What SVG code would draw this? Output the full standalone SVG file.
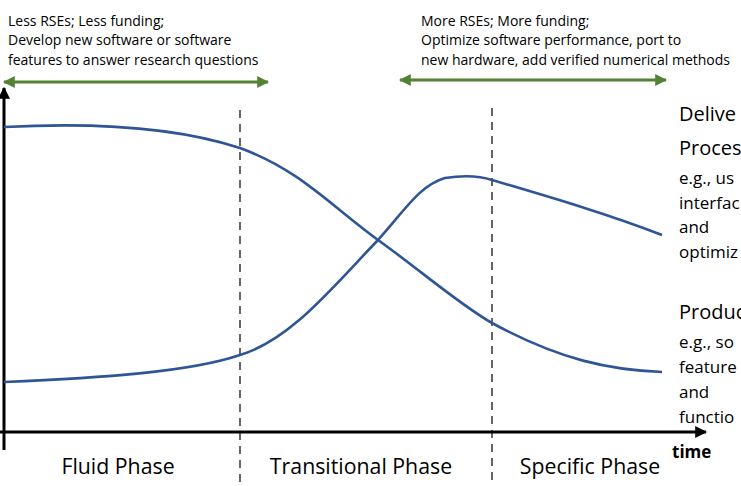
<svg xmlns="http://www.w3.org/2000/svg" width="741" height="486" viewBox="0 0 741 486">
<defs>
<style>
.t{font-family:"Open Sans","Noto Sans",sans-serif;fill:#000}
.top{font-size:14px}
.big{font-size:20px}
.mid{font-size:17px}
.ph{font-size:21.3px}
.curve{fill:none;stroke:#2F5597;stroke-width:2.6}
.dash{stroke:#404040;stroke-width:1.6;stroke-dasharray:8,6;fill:none}
.green{stroke:#548235;stroke-width:3;fill:none}
.axis{stroke:#000;stroke-width:3;fill:none}
</style>
<marker id="ga" viewBox="0 0 10 10" refX="9" refY="5" markerWidth="4" markerHeight="4" orient="auto-start-reverse"><path d="M0,0 L10,5 L0,10 z" fill="#548235"/></marker>
<marker id="ka" viewBox="0 0 10 10" refX="9" refY="5" markerWidth="4" markerHeight="4" orient="auto"><path d="M0,0 L10,5 L0,10 z" fill="#000"/></marker>
</defs>
<rect width="741" height="486" fill="#fff"/>
<g id="connectors">
<line class="dash" x1="240" y1="110" x2="240" y2="482"/>
<line class="dash" x1="492" y1="108" x2="492" y2="482"/>
<line class="green" x1="4" y1="82" x2="268" y2="82" marker-start="url(#ga)" marker-end="url(#ga)"/>
<line class="green" x1="400" y1="80" x2="666" y2="80" marker-start="url(#ga)" marker-end="url(#ga)"/>
<line class="axis" x1="4" y1="450" x2="4" y2="88" marker-end="url(#ka)"/>
<line class="axis" x1="0" y1="432" x2="706" y2="432" marker-end="url(#ka)"/>
<path id="curveA" class="curve" d="M4,127 C80,123 170,125 240,148 C300,170 330,205 378,240 C420,270 460,305 492,323 C560,360 610,370 662,372"/>
<path id="curveB" class="curve" d="M4,382 C100,378 190,372 240,355 C290,340 330,290 378,240 C405,210 420,185 445,178 C465,175 480,176 492,180 C560,200 610,215 662,235"/>
</g>
<g id="note-left">
<text class="t top" x="8" y="26">Less RSEs; Less funding;</text>
<text class="t top" x="8" y="45">Develop new software or software</text>
<text class="t top" x="8" y="65">features to answer research questions</text>
</g>
<g id="note-right">
<text class="t top" x="421" y="26">More RSEs; More funding;</text>
<text class="t top" x="421" y="45">Optimize software performance, port to</text>
<text class="t top" x="421" y="65">new hardware, add verified numerical methods</text>
</g>
<g id="label-delivery">
<text class="t big" x="679" y="121">Delive</text>
<text class="t big" x="679" y="155">Proces</text>
<text class="t mid" x="679" y="184">e.g., us</text>
<text class="t mid" x="679" y="209">interfac</text>
<text class="t mid" x="679" y="233">and</text>
<text class="t mid" x="679" y="258">optimiz</text>
</g>
<g id="label-product">
<text class="t big" x="679" y="319">Produc</text>
<text class="t mid" x="679" y="348">e.g., so</text>
<text class="t mid" x="679" y="373">feature</text>
<text class="t mid" x="679" y="398">and</text>
<text class="t mid" x="679" y="423">functio</text>
</g>
<g id="phases">
<text class="t ph" x="118" y="474" text-anchor="middle">Fluid Phase</text>
<text class="t ph" x="361" y="474" text-anchor="middle">Transitional Phase</text>
<text class="t ph" x="590" y="474" text-anchor="middle">Specific Phase</text>
<text class="t" x="672" y="458" font-size="17" font-weight="bold">time</text>
</g>
</svg>
